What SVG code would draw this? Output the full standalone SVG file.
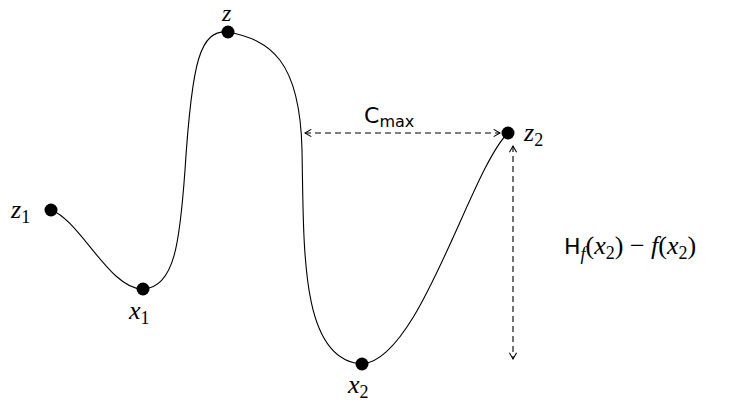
<svg xmlns="http://www.w3.org/2000/svg" width="754" height="403" viewBox="0 0 754 403">
<style>
.dot{fill:#000}
.d{stroke:#000;stroke-width:1.1;fill:none;stroke-dasharray:6,4}
text{fill:#000}
</style>
<defs>
<marker id="ah" viewBox="0 0 10 10" refX="9" refY="5" markerWidth="9" markerHeight="9" markerUnits="userSpaceOnUse" orient="auto-start-reverse">
<path d="M2,1 L9,5 L2,9" fill="none" stroke="#000" stroke-width="1.2"/>
</marker>
</defs>
<g id="connectors">
<path d="M51,210 C80,220 110,290 143,289 C175,288 180,240 185,170 C192,60 200,30 228,32 C270,40 300,60 302,150 C304,250 300,360 362,364 C420,360 470,170 508,133" fill="none" stroke="#000" stroke-width="1.1"/>
<line class="d" x1="305" y1="133" x2="500" y2="133" marker-start="url(#ah)" marker-end="url(#ah)"/>
<line class="d" x1="513" y1="146" x2="513" y2="359" marker-start="url(#ah)" marker-end="url(#ah)"/>
</g>
<g id="z1" font-family="Liberation Serif, serif" font-size="26"><circle class="dot" cx="51" cy="210" r="6.5"/><text x="11" y="218"><tspan font-style="italic">z</tspan><tspan font-size="18" dy="5">1</tspan></text></g>
<g id="x1" font-family="Liberation Serif, serif" font-size="26"><circle class="dot" cx="143" cy="289" r="6.5"/><text x="129" y="319"><tspan font-style="italic">x</tspan><tspan font-size="18" dy="5">1</tspan></text></g>
<g id="z" font-family="Liberation Serif, serif" font-size="24"><circle class="dot" cx="228" cy="32" r="6.5"/><text x="222" y="21" font-style="italic">z</text></g>
<g id="x2" font-family="Liberation Serif, serif" font-size="26"><circle class="dot" cx="362" cy="364" r="6.5"/><text x="348" y="393"><tspan font-style="italic">x</tspan><tspan font-size="18" dy="5">2</tspan></text></g>
<g id="z2" font-family="Liberation Serif, serif" font-size="26"><circle class="dot" cx="508" cy="133" r="6.5"/><text x="524" y="141"><tspan font-style="italic">z</tspan><tspan font-size="18" dy="5">2</tspan></text></g>
<g id="cmax"><text font-family="DejaVu Sans, sans-serif" font-size="22" x="364" y="123">C<tspan font-size="16" dy="4">max</tspan></text></g>
<g id="hlabel" font-family="Liberation Serif, serif" font-size="26"><text x="564" y="254"><tspan font-family="DejaVu Sans, sans-serif" font-size="22">H</tspan><tspan font-style="italic" font-size="18" dy="6">f</tspan><tspan dy="-6">(</tspan><tspan font-style="italic">x</tspan><tspan font-size="18" dy="5">2</tspan><tspan dy="-5">) − </tspan><tspan font-style="italic">f</tspan><tspan>(</tspan><tspan font-style="italic">x</tspan><tspan font-size="18" dy="5">2</tspan><tspan dy="-5">)</tspan></text></g>
</svg>
